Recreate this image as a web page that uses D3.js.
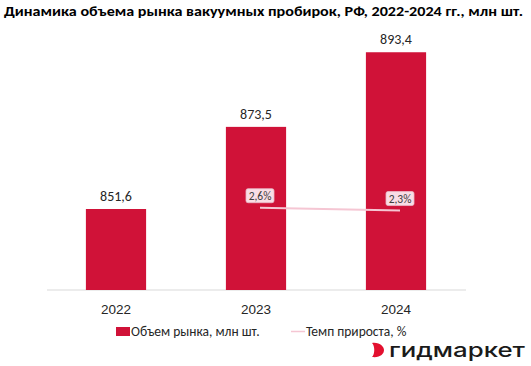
<!DOCTYPE html>
<html>
<head>
<meta charset="utf-8">
<script src="https://cdn.jsdelivr.net/npm/d3@7"></script>
<style>
  body { margin: 0; background: #fff; }
  svg { display: block; font-family: Carlito, "Liberation Sans", Arial, sans-serif; }
</style>
</head>
<body>
<svg id="chart" width="531" height="366"></svg>
<script>
const years = ["2022", "2023", "2024"]
const volume = [851.6, 873.5, 893.4]
const growthYears = ["2023", "2024"]
const growth = [2.6, 2.3]
const titleText = "Динамика объема рынка вакуумных пробирок, РФ, 2022-2024 гг., млн шт."
const legendLabels = ["Объем рынка, млн шт.", "Темп прироста, %"]

const fmt = v => String(v).replace(".", ",")

const svg = d3.select("#chart")
const barColor = "#d01238"
const lineColor = "#f5c6d3"

// title
svg.append("text")
  .attr("x", 4).attr("y", 16)
  .attr("font-size", 14).attr("font-weight", "bold")
  .attr("fill", "#000")
  .attr("textLength", 519).attr("lengthAdjust", "spacingAndGlyphs")
  .text(titleText)

const x = d3.scaleBand().domain(years).range([46, 466]).paddingInner(0.57).paddingOuter(0.285)
const y = d3.scaleLinear().domain([830, 900]).range([290, 27.5])
const y2 = d3.scaleLinear().domain([0, 3]).range([232, 204])

// baseline
svg.append("line")
  .attr("x1", 47).attr("x2", 466)
  .attr("y1", y(830)).attr("y2", y(830))
  .attr("stroke", "#d9d9d9").attr("stroke-width", 1)

svg.selectAll("rect.bar")
  .data(volume)
  .enter()
  .append("rect")
  .attr("class", "bar")
  .attr("x", (d, i) => x(years[i]))
  .attr("width", x.bandwidth())
  .attr("y", d => y(d))
  .attr("height", d => y(830) - y(d))
  .attr("fill", barColor)

svg.selectAll("text.val")
  .data(volume)
  .enter()
  .append("text")
  .attr("class", "val")
  .attr("x", (d, i) => x(years[i]) + x.bandwidth() / 2)
  .attr("y", d => y(d) - 8)
  .attr("text-anchor", "middle")
  .attr("font-size", 14)
  .attr("fill", "#262626")
  .text(d => fmt(d))

// x axis labels
const xAxis = d3.axisBottom(x).tickSize(0).tickPadding(14)
const gx = svg.append("g").attr("transform", `translate(0,${y(830)})`).call(xAxis)
gx.select(".domain").remove()
gx.selectAll("text").attr("font-size", 13.5).attr("fill", "#262626").attr("font-family", null)

// growth line
const lx = d => x(d) + x.bandwidth() / 2 + 4
const line = d3.line().x((d, i) => lx(growthYears[i])).y(d => y2(d))
svg.append("path")
  .datum(growth)
  .attr("d", line)
  .attr("fill", "none")
  .attr("stroke", lineColor)
  .attr("stroke-width", 2)

const gl = svg.selectAll("g.glab")
  .data(growth)
  .enter()
  .append("g")
  .attr("class", "glab")
  .attr("transform", (d, i) => `translate(${lx(growthYears[i])},${y2(d) - 12})`)
gl.append("rect")
  .attr("x", -14).attr("y", -7).attr("width", 28).attr("height", 14).attr("rx", 2)
  .attr("fill", "#f9dde5").attr("stroke", "#e8b9c6").attr("stroke-width", 0.8)
gl.append("text")
  .attr("text-anchor", "middle").attr("y", 4)
  .attr("font-size", 11.5).attr("fill", "#404040")
  .text(d => fmt(d) + "%")

// legend
const lg = svg.append("g")
lg.append("rect").attr("x", 116).attr("y", 327).attr("width", 14).attr("height", 9).attr("fill", barColor)
lg.append("text").attr("x", 131).attr("y", 336).attr("font-size", 13.5).attr("fill", "#262626").text(legendLabels[0])
lg.append("line").attr("x1", 291).attr("x2", 305).attr("y1", 331.5).attr("y2", 331.5)
  .attr("stroke", lineColor).attr("stroke-width", 1.5)
lg.append("text").attr("x", 306).attr("y", 336).attr("font-size", 13.5).attr("fill", "#262626").text(legendLabels[1])

// logo
const logo = svg.append("g")
logo.append("path")
  .attr("d", "M372,343 C380,342 384,347 384,350 C384,354 380,358 372,357 C375,354 375,346 372,343 Z")
  .attr("fill", "#e3102f")
logo.append("text")
  .attr("x", 389).attr("y", 357)
  .attr("font-family", "Inter, 'DejaVu Sans', sans-serif")
  .attr("font-size", 20).attr("font-weight", 500)
  .attr("fill", "#1a1a1a")
  .attr("textLength", 136).attr("lengthAdjust", "spacingAndGlyphs")
  .text("гидмаркет")
</script>
</body>
</html>
